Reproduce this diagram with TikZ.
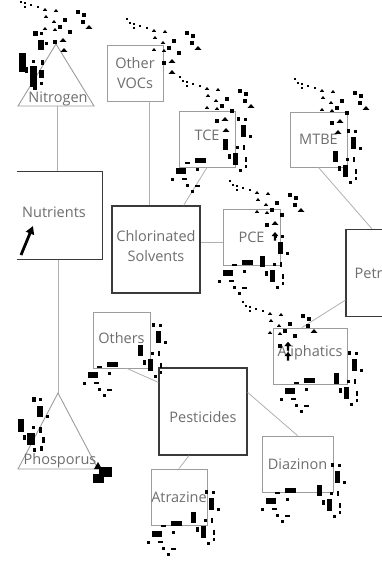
\documentclass[tikz,border=0pt]{standalone}
\usepackage{fontspec}
\setmainfont{Open Sans}
\usetikzlibrary{arrows.meta,calc}

\definecolor{txtgray}{HTML}{6E6E6E}
\definecolor{leafedge}{HTML}{9C9C9C}
\definecolor{catedge}{HTML}{3A3A3A}
\definecolor{linkgray}{HTML}{B0B0B0}

\tikzset{
  lbl/.style={text=txtgray, font=\fontsize{14.5}{20}\selectfont, align=center, inner sep=0pt},
  leaf/.style={lbl, draw=leafedge, line width=0.9pt, fill=white,
               minimum width=56pt, minimum height=56pt},
  catbox/.style={lbl, draw=catedge, line width=1.2pt, fill=white,
               minimum width=88pt, minimum height=87pt},
  trishape/.style={draw=leafedge, line width=0.9pt},
  link/.style={draw=linkgray, line width=0.8pt},
  % dotted trail of dots, triangles and squares
  trail/.pic={
    \foreach \x/\y in {0/0,3/4,7/5,7/9,13/7,20/9}
      \fill (\x-1.2,\y-1.2) rectangle ++(2.5,2.5);
    \foreach \x/\y in {27/10,38/11,28/17,36/22,27/29,37/30}
      \fill (\x,\y) -- ++(2.2,2.8) -- ++(-4.4,0) -- cycle;
    \foreach \x/\y in {47/22,42/29,52/34,37/44,60/14,66/17,65/24}
      \fill (\x-2.2,\y-2.2) rectangle ++(4.5,4.5);
    \foreach \x/\y in {45/40,71/27}
      \fill (\x,\y) -- ++(3.3,3.8) -- ++(-6.6,0) -- cycle;
  },
  bigtri/.pic={\fill (0,0) -- ++(3.3,3.8) -- ++(-6.6,0) -- cycle;},
  uparrow/.pic={\fill (0,0) -- ++(3.4,4) -- ++(-2.3,0) -- ++(0,4.5)
                  -- ++(-2.2,0) -- ++(0,-4.5) -- ++(-2.3,0) -- cycle;},
  % bars down the right-hand side of a box
  sidebars/.pic={
    \fill (-2.5,-35) rectangle (1,-31.5);
    \fill (5,-34) rectangle ++(2.5,2.5);
    \fill (1.5,-27) rectangle (7,-15);
    \fill (10,-17) rectangle ++(2.5,2.5);
    \fill (-16.5,-13) rectangle (-11.5,-2);
    \fill (-3,-6) rectangle ++(2.5,2.5);
    \fill (3.5,-7) rectangle (6,-2);
    \fill (-11.5,2) rectangle (-8.5,7);
    \fill (-6.5,1) rectangle (-1,13);
    \fill (5.5,5) rectangle (8,10);
    \fill (5.5,13) rectangle (8,16);
    \fill (0,17) rectangle ++(2.5,2.5);
  },
  % bars under the bottom edge of a box
  footbars/.pic={
    \fill (-36,-4.5) rectangle (-25,1);
    \fill (-46,-0.5) rectangle (-41,2);
    \fill (-35,6) rectangle ++(2.5,2.5);
    \fill (-55,6) rectangle (-45,12);
    \fill (-60,16) rectangle ++(2.5,2.5);
    \fill (-49,15.5) rectangle (-44,18);
    \fill (-45,22) rectangle ++(2.5,2.5);
    \fill (-40,28) rectangle ++(2.5,2.5);
    \fill (-36,22.5) rectangle (-31,25);
  },
}

\begin{document}
\begin{tikzpicture}[x=1pt,y=-1pt]
\useasboundingbox (0,0) rectangle (382,566);
\clip (0,0) rectangle (382,566);

% ---- category boxes
\node[catbox, draw=none, minimum width=84pt] (nut) at (60,215.5) {};
\node[lbl] (nutT) at (54,212.5) {Nutrients};
\draw[catedge, line width=1.2pt] (nut.north west) -- (nut.north east)
      -- (nut.south east) -- (nut.south west);
\node[catbox, label={[lbl, yshift=3pt]center:Chlorinated\\Solvents}] (chl) at (156,249.5) {};
\node[catbox] (petr) at (390,273) {Petroleum};
\node[catbox, label={[lbl, yshift=-6pt]center:Pesticides}] (pest) at (203,411.5) {};

% ---- leaf boxes
\node[leaf] (ovoc) at (135,73) {Other\\VOCs};
\node[leaf, label={[lbl, yshift=4pt]center:TCE}] (tce) at (207,139) {};
\node[leaf, minimum width=57pt] (pce) at (251.5,237) {PCE};
\node[leaf, minimum width=57pt, minimum height=55pt] (mtbe) at (318.5,139.5) {MTBE};
\node[leaf, minimum width=74pt, label={[lbl, yshift=3pt]center:Aliphatics}] (ali) at (310,356) {};
\node[leaf, minimum width=57pt, label={[lbl, yshift=2pt]center:Others}] (oth) at (121.5,340) {};
\node[leaf] (atr) at (179,497) {Atrazine};
\node[leaf, minimum width=71pt] (dia) at (297.5,464) {Diazinon};

% ---- nutrient triangles
\coordinate (nitA) at (56,44);
\coordinate (nitL) at (18,106);
\coordinate (nitR) at (94,106);
\coordinate (nitB) at (57,106);
\draw[trishape] (nitA) -- (nitR) -- (nitL) -- cycle;
\node[lbl, anchor=base] (nitT) at (58,102) {Nitrogen};

\coordinate (phoA) at (58,393);
\coordinate (phoL) at (18,469);
\coordinate (phoR) at (98,469);
\draw[trishape] (phoA) -- (phoR) -- (phoL) -- cycle;
\node[lbl, anchor=base] (phoT) at (60,464) {Phosporus};

% ---- connectors
\coordinate (pceIn) at ([yshift=-5pt]pce.west);
\draw[link] (nitB) -- (nitB |- nut.north);
\draw[link] (phoA |- nut.south) -- (phoA);
\draw[link] ([xshift=14pt]ovoc.south) -- ([xshift=14pt]ovoc.south |- chl.north);
\draw[link] (tce.south) -- ([xshift=-17pt]chl.north east);
\draw[link] (pceIn) -- (chl.east |- pceIn);
\draw[link] (mtbe.south) -- ([xshift=-18pt]petr.north);
\draw[link] ([yshift=17pt]petr.south west) -- ([xshift=-8pt]ali.north);
\draw[link] ([xshift=5.5pt]oth.south) -- ([yshift=-15pt]pest.north west);
\draw[link] ([xshift=-14pt]pest.south) -- (atr.north);
\draw[link] ([yshift=-25pt]pest.north east) -- (dia.north);

% ---- arrow in the nutrients box
\coordinate (arrTail) at (21,255);
\coordinate (arrTip) at (33,226);
\draw[line width=2.8pt, -{Triangle[length=8pt,width=8.5pt]}] (arrTail) -- (arrTip);

% ---- scattered marks
\pic at (127,19) {trail};  \pic at (172,70) {bigtri};
\pic at (180,77) {trail};  \pic at (226,128) {bigtri};
\pic at (230,181) {trail}; \pic at (275,232) {uparrow};
\pic at (295,79) {trail};  \pic at (338,130) {bigtri};
\pic at (243,302) {trail}; \pic at (288,342) {uparrow}; \pic at (288,352) {uparrow};
\pic at (18,-2) {trail};   \pic at (64,48) {bigtri};

\pic at (239,152) {sidebars}; \pic at (231,162) {footbars};
\pic at (276,269) {sidebars}; \pic at (278,264) {footbars};
\pic at (349,164) {sidebars};
\pic at (350,386) {sidebars}; \pic at (340,382) {footbars};
\pic at (154,358) {sidebars}; \pic at (143,366) {footbars};
\pic at (207,525) {sidebars}; \pic at (207,525) {footbars};
\pic at (333,498) {sidebars}; \pic at (321,492) {footbars};

% bars beside the nitrogen triangle
\fill (38,40) rectangle (43.5,50);
\fill (45,42) rectangle ++(2.5,2.5);
\fill (33,31) rectangle (37.5,35.5);
\fill (40,32) rectangle ++(2.5,2.5);
\fill (19,53) rectangle (25.5,72);
\fill (32,60) rectangle ++(2.5,2.5);
\fill (41,60) rectangle (43.5,65);
\fill (25,67) rectangle (28,73);
\fill (30,66) rectangle (37,87);
\fill (39,70) rectangle (43.5,78);
\fill (40,82) rectangle (43,85);
\fill (33,87) rectangle (37,90);

% bars beside the phosphorus triangle
\fill (32,397) rectangle (36,402);
\fill (39,398) rectangle ++(2.5,2.5);
\fill (37,406) rectangle (43,417);
\fill (46,415) rectangle ++(2.5,2.5);
\fill (18,419) rectangle (24,432);
\fill (32,426) rectangle ++(2.5,2.5);
\fill (39,427) rectangle (42,433);
\fill (27,433) rectangle (35,445);
\fill (23,435) rectangle (25.5,440);
\fill (42,437) rectangle (44.5,443);
\fill (40,446) rectangle (43,451);
\fill (33,448) rectangle (36,452);
\fill (98,462) -- (102,469) -- (94,469) -- cycle;
\fill (99,467) rectangle (112,477);
\fill (93,474) rectangle (104,483);
\end{tikzpicture}
\end{document}
